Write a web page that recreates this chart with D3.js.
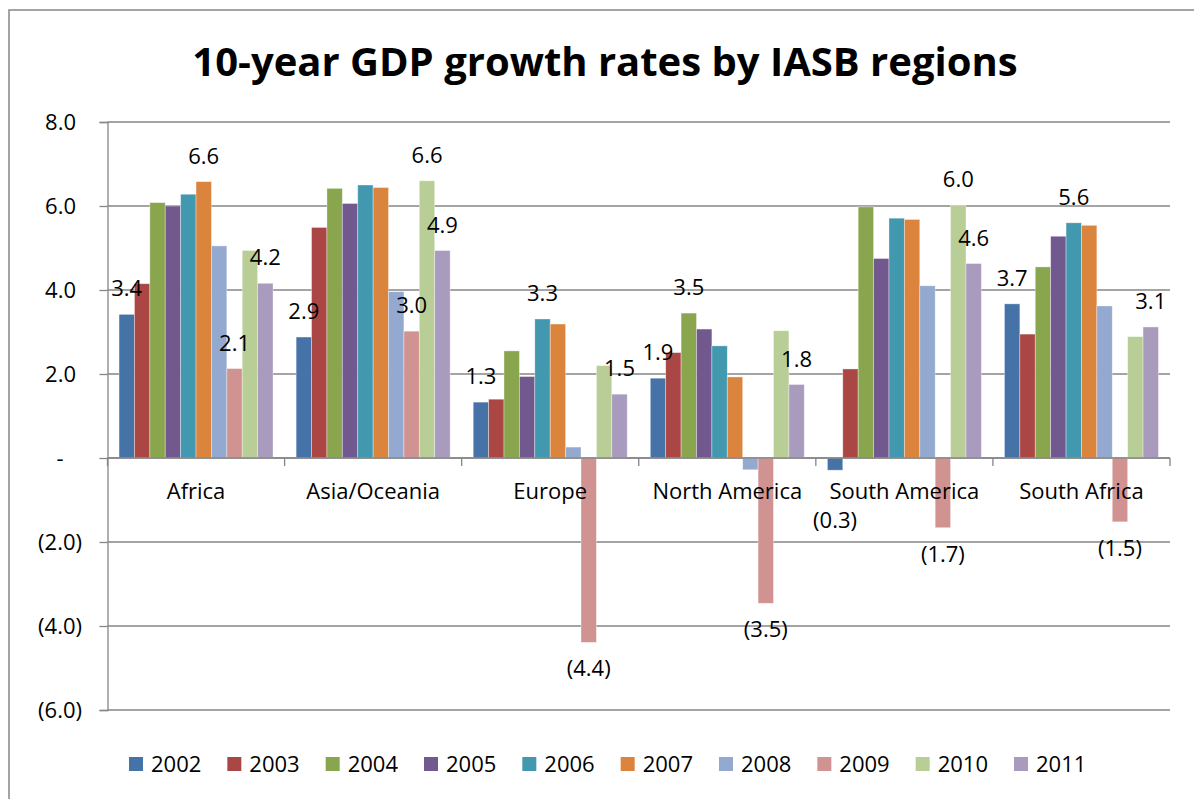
<!DOCTYPE html>
<html>
<head>
<meta charset="utf-8">
<script src="https://cdn.jsdelivr.net/npm/d3@7"></script>
<style>
  html, body { margin: 0; padding: 0; background: #fff; }
  svg { display: block; }
  text { font-family: "Open Sans", "Noto Sans", sans-serif; fill: #000; }
</style>
</head>
<body>
<svg id="chart" width="1194" height="799"></svg>
<script>
const title = "10-year GDP growth rates by IASB regions";
const categories = ["Africa", "Asia/Oceania", "Europe", "North America", "South America", "South Africa"];
const years = ["2002", "2003", "2004", "2005", "2006", "2007", "2008", "2009", "2010", "2011"];
const colors = ["#4572A7", "#AA4643", "#89A54E", "#71588F", "#4198AF", "#DB843D", "#93A9CF", "#D19392", "#B9CD96", "#A99BBD"];
const yTicks = [-6, -4, -2, 0, 2, 4, 6, 8];

// values per year, in category order
const v2002 = [3.42, 2.88, 1.33, 1.90, -0.29, 3.67];
const v2003 = [4.15, 5.49, 1.40, 2.51, 2.12, 2.95];
const v2004 = [6.08, 6.42, 2.55, 3.45, 5.98, 4.55];
const v2005 = [6.00, 6.06, 1.94, 3.07, 4.75, 5.28];
const v2006 = [6.28, 6.50, 3.31, 2.67, 5.71, 5.60];
const v2007 = [6.58, 6.44, 3.19, 1.93, 5.68, 5.54];
const v2008 = [5.05, 3.96, 0.26, -0.28, 4.10, 3.62];
const v2009 = [2.13, 3.02, -4.39, -3.46, -1.66, -1.52];
const v2010 = [4.94, 6.60, 2.20, 3.03, 6.02, 2.89];
const v2011 = [4.16, 4.94, 1.52, 1.75, 4.63, 3.12];
const seriesValues = [v2002, v2003, v2004, v2005, v2006, v2007, v2008, v2009, v2010, v2011];
// series that always carry a data label (plus each region's maximum)
const labelledYears = ["2002", "2009", "2011"];

const svg = d3.select("#chart");
const W = 1194, H = 799;
const plot = { left: 107.5, right: 1170, top: 122, bottom: 710 };
const grey = "#868686";

svg.append("rect").attr("x", 0).attr("y", 0).attr("width", W).attr("height", H).attr("fill", "#fff");
// chart border (top + left visible)
svg.append("rect").attr("x", 9).attr("y", 10).attr("width", W + 20).attr("height", H + 20)
  .attr("fill", "none").attr("stroke", grey).attr("stroke-width", 1.5);

svg.append("text").attr("x", 605).attr("y", 76).attr("text-anchor", "middle")
  .attr("font-size", 40).attr("font-weight", "bold").text(title);

const y = d3.scaleLinear().domain([-6, 8]).range([plot.bottom, plot.top]);
const x0 = d3.scaleBand().domain(categories).range([plot.left, plot.right]).paddingInner(0).paddingOuter(0);
const x1 = d3.scaleBand().domain(years).range([0, x0.bandwidth()]).paddingInner(0).paddingOuter(0.75);
const color = d3.scaleOrdinal().domain(years).range(colors);

// gridlines
svg.append("g").selectAll("line").data(yTicks).join("line")
  .attr("x1", plot.left).attr("x2", plot.right)
  .attr("y1", d => y(d)).attr("y2", d => y(d))
  .attr("stroke", grey).attr("stroke-width", 1.3);

// y axis
const yAxis = svg.append("g").attr("transform", `translate(${plot.left},0)`)
  .call(d3.axisLeft(y).tickValues(yTicks).tickSize(8).tickFormat(""));
yAxis.select(".domain").attr("stroke", grey).attr("stroke-width", 1.3);
yAxis.selectAll(".tick line").attr("stroke", grey).attr("stroke-width", 1.3);

const fmtAcc = d3.format(".1f");
function accounting(v) {
  if (Math.abs(v) < 1e-9) return "-";
  return v < 0 ? "(" + fmtAcc(-v) + ")" : fmtAcc(v);
}
svg.append("g").selectAll("text").data(yTicks).join("text")
  .attr("x", d => d === 0 ? 60 : (d < 0 ? 82 : 76))
  .attr("y", d => y(d) + 8)
  .attr("text-anchor", d => d === 0 ? "middle" : "end")
  .attr("font-size", 22)
  .text(accounting);

// bars
const data = [];
categories.forEach((c, ci) => {
  years.forEach((yr, si) => data.push({ cat: c, year: yr, value: seriesValues[si][ci] }));
});
svg.append("g").selectAll("rect").data(data).join("rect")
  .attr("x", d => x0(d.cat) + x1(d.year))
  .attr("width", x1.bandwidth())
  .attr("y", d => y(Math.max(0, d.value)))
  .attr("height", d => Math.abs(y(d.value) - y(0)))
  .attr("fill", d => color(d.year))
  .attr("stroke", "rgba(255,255,255,0.45)").attr("stroke-width", 0.8);

// x axis
const xAxis = svg.append("g").attr("transform", `translate(0,${y(0)})`);
xAxis.append("line").attr("x1", plot.left).attr("x2", plot.right).attr("stroke", grey).attr("stroke-width", 1.3);
const boundaries = categories.map(c => x0(c)).concat([x0(categories[categories.length - 1]) + x0.bandwidth()]);
xAxis.selectAll("line.tk").data(boundaries).join("line").attr("class", "tk")
  .attr("x1", d => d).attr("x2", d => d).attr("y1", 0).attr("y2", 8)
  .attr("stroke", grey).attr("stroke-width", 1.3);
const catLabelBaseline = y(0) + 41;
svg.append("g").selectAll("text").data(categories).join("text")
  .attr("x", d => x0(d) + x0.bandwidth() / 2)
  .attr("y", catLabelBaseline)
  .attr("text-anchor", "middle").attr("font-size", 22)
  .text(d => d);

// data labels (negative labels are pushed below the category labels when they would collide)
const labelled = data.filter(d => {
  if (labelledYears.includes(d.year)) return true;
  const ci = categories.indexOf(d.cat);
  const mx = d3.max(seriesValues, s => s[ci]);
  return d.value === mx;
});
svg.append("g").selectAll("text").data(labelled).join("text")
  .attr("x", d => x0(d.cat) + x1(d.year) + x1.bandwidth() / 2)
  .attr("y", d => d.value >= 0 ? y(d.value) - 18 : Math.max(y(d.value) + 34, catLabelBaseline + 29))
  .attr("text-anchor", "middle").attr("font-size", 22)
  .text(d => accounting(Math.round(d.value * 10) / 10));

// legend
const legendX = d3.scalePoint().domain(years).range([129, 1014]);
const lg = svg.append("g").selectAll("g").data(years).join("g")
  .attr("transform", d => `translate(${legendX(d)},757)`);
lg.append("rect").attr("width", 14).attr("height", 14).attr("fill", d => color(d));
lg.append("text").attr("x", 22).attr("y", 15).attr("font-size", 22).text(d => d);
</script>
</body>
</html>
